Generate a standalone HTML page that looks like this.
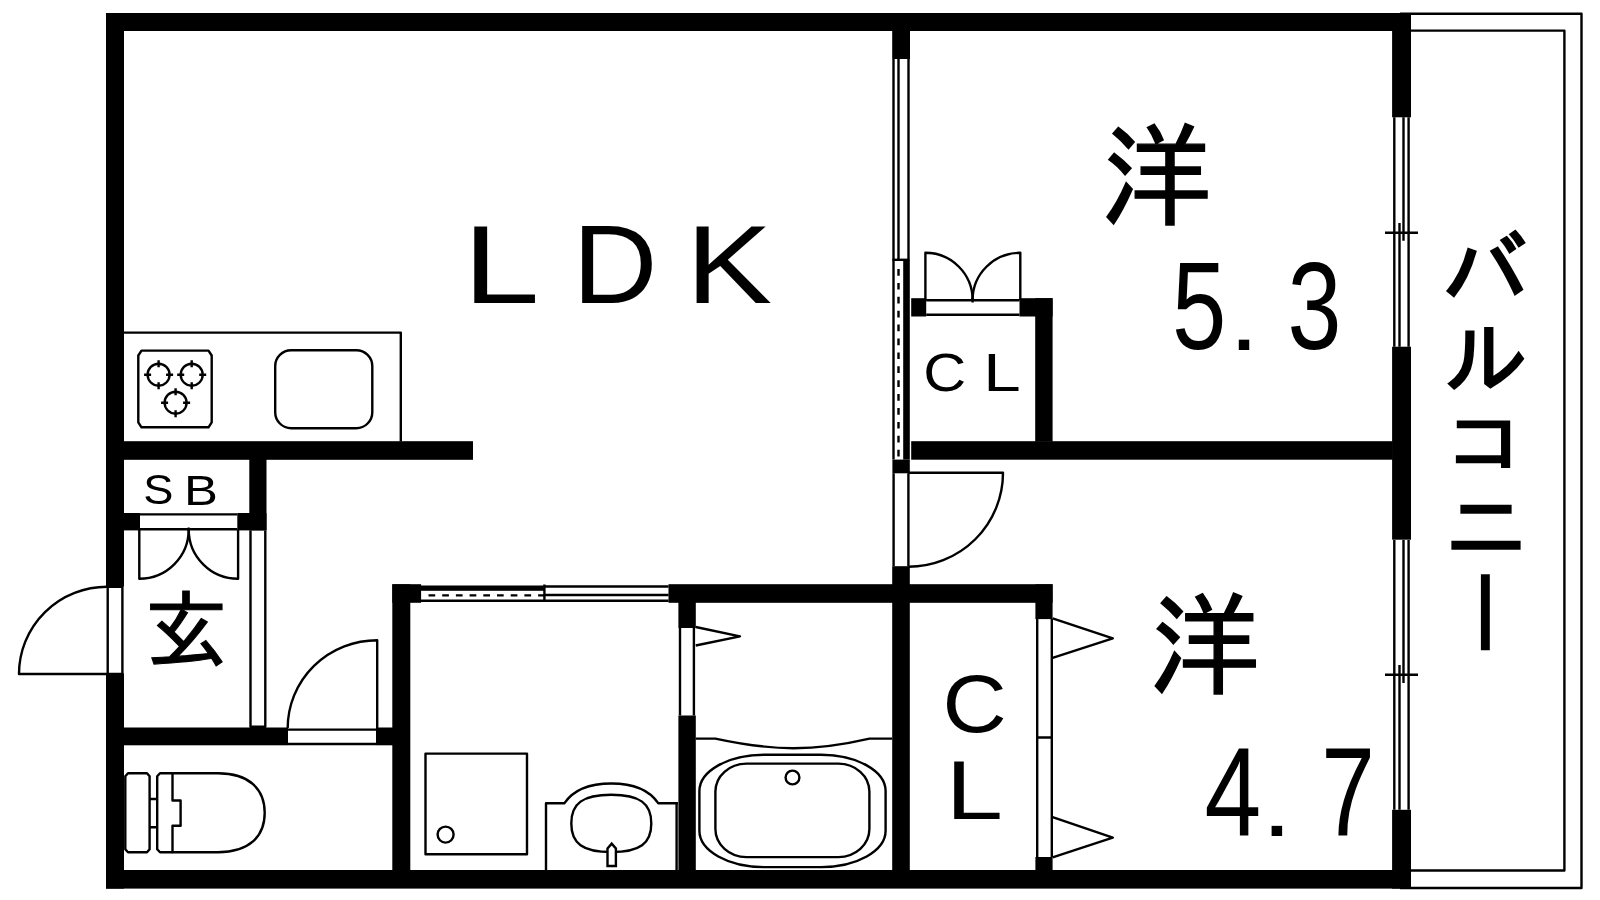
<!DOCTYPE html>
<html lang="ja">
<head>
<meta charset="utf-8">
<title>間取り図 2LDK</title>
<style>
html,body{margin:0;padding:0;background:#fff;}
body{width:1600px;height:900px;overflow:hidden;}
svg{display:block;position:absolute;left:0;top:0;will-change:transform;}
text{font-family:"Liberation Sans","IPAGothic","Noto Sans CJK JP",sans-serif;fill:#000;}
.w{fill:#000;stroke:none;}
.l{fill:none;stroke:#000;stroke-width:2.4;stroke-linejoin:round;}
.lw{fill:#fff;stroke:#000;stroke-width:2.4;}
</style>
</head>
<body>
<svg width="1600" height="900" viewBox="0 0 1600 900">
<rect x="0" y="0" width="1600" height="900" fill="#fff"/>

<!-- ===== thin line work ===== -->
<g class="l">
  <!-- balcony -->
  <path d="M1400,13.7 H1581.5 V888 H1400"/>
  <path d="M1410,30.6 H1564.4 V870.5 H1410"/>

  <!-- kitchen counter -->
  <path d="M124,332.6 H400.8 V441.5"/>
  <!-- stove -->
  <path d="M141.5,350.6 H208.5 L211.7,355.5 V422.4 L208.5,427.3 H141.5 L138.3,422.4 V355.5 Z"/>
  <g id="burner1">
    <circle cx="158.6" cy="374.7" r="11"/>
    <path d="M144.1,374.7 H151.1 M166.1,374.7 H173.1 M158.6,360.2 V367.2 M158.6,382.2 V389.2"/>
  </g>
  <g>
    <circle cx="191.7" cy="374.7" r="11"/>
    <path d="M177.2,374.7 H184.2 M199.2,374.7 H206.2 M191.7,360.2 V367.2 M191.7,382.2 V389.2"/>
  </g>
  <g>
    <circle cx="175.6" cy="402.7" r="11"/>
    <path d="M161.1,402.7 H168.1 M183.1,402.7 H190.1 M175.6,388.2 V395.2 M175.6,410.2 V417.2"/>
  </g>
  <!-- sink -->
  <rect x="275.2" y="350.2" width="97.1" height="78" rx="16" ry="16"/>

  <!-- entrance door -->
  <path d="M107.7,587 V674 M122.4,587 V674 M106.5,586.9 H123.5"/>
  <path d="M107,586.8 A88,87.2 0 0 0 19,674 H123"/>

  <!-- SB closet door frame + double doors -->
  <path d="M140,514.4 H237.3 M140,529.2 H237.3"/>
  <path d="M139.3,529.5 V578.8 A49.4,49.4 0 0 0 188.7,529.5"/>
  <path d="M238.1,529.5 V578.8 A49.4,49.4 0 0 1 188.7,529.5"/>
  <path d="M188.7,527.5 V531"/>

  <!-- thin partition by genkan -->
  <path d="M250.5,530.4 V726.8 H265.3 V530.4"/>

  <!-- hall door -->
  <path d="M288,729.6 H376 M288,744 H376"/>
  <path d="M377.2,728 V640.2 A89.5,88 0 0 0 287.7,728"/>

  <!-- toilet -->
  <path d="M128,773.3 H147 L149.6,776.3 V849.3 L147,852.3 H128 L125.3,849.3 V776.3 Z"/>
  <path d="M149.6,799 H158 M149.6,827.3 H158"/>
  <path d="M172.5,773.3 H160 L157.2,776.3 V849.3 L160,852.3 H172.5"/>
  <path d="M172.5,852.3 V825.7 H180.6 V800.5 H172.5 V773.3 H218 C249,773.3 264.7,789 264.7,812.8 C264.7,836.6 249,852.3 218,852.3 Z"/>

  <!-- washing machine pan -->
  <rect x="425.5" y="753.6" width="101.5" height="100.7"/>
  <circle cx="445.6" cy="834.6" r="8"/>

  <!-- wash basin -->
  <path d="M546,870 V803.2 H564.5 C574,789 592,783.5 611.3,783.5 C630.6,783.5 648.6,789 658.2,803.2 H678"/>
  <path d="M676.6,803.2 V870"/>
  <path d="M611.3,794.8 C640,794.8 651.3,803.5 651.3,823.4 C651.3,843.3 640,852 611.3,852 C582.6,852 571.3,843.3 571.3,823.4 C571.3,803.5 582.6,794.8 611.3,794.8 Z"/>

  <!-- washroom sliding door -->
  <path d="M421,600.7 H668.6"/>
  <path d="M544.4,586.5 H668.6 M544.4,595 H668.6"/>
  <path d="M544.4,584.5 V602"/>
  <path d="M428.5,595.4 H544" stroke-dasharray="6.7 7"/>

  <!-- bath folding door -->
  <path d="M680,628 V715.5 M693.9,628 V715.5"/>
  <path d="M695.7,627 L740,636.3 L695.7,645.5"/>

  <!-- bath tub -->
  <path d="M695.7,738.6 H715.4 C745,745 770,748.2 793.5,748.2 C817,748.2 842,745 869.5,738.6 H892.2"/>
  <rect x="699.4" y="754.7" width="186.2" height="112.4" rx="64.6" ry="36.3"/>
  <rect x="715.4" y="763.6" width="154" height="93.5" rx="31" ry="28"/>
  <circle cx="792.5" cy="777.5" r="6.9"/>

  <!-- LDK / bedroom sliding door -->
  <path d="M893.5,59 V459.6"/>
  <path d="M898.5,59 V259.8 M908.5,59 V259.8"/>
  <path d="M892.5,259.8 H909.5"/>
  <path d="M898.5,269 V459" stroke-dasharray="6.7 7.2"/>

  <!-- upper CL double doors -->
  <path d="M926.2,300.3 H1019.5 M926.2,314.7 H1019.5"/>
  <path d="M925.4,300.3 V252.8 A47.2,47.2 0 0 1 972.6,300.3"/>
  <path d="M1020.3,300.3 V252.8 A47.7,47.2 0 0 0 972.6,300.3"/>
  <path d="M972.6,298 V302.5"/>

  <!-- lower bedroom door -->
  <path d="M893.6,473.3 V566.2 M908.4,473.3 V566.2"/>
  <path d="M908.4,472.8 H1003 A94.6,94 0 0 1 908.4,566.8"/>

  <!-- lower CL folding doors -->
  <path d="M1037.2,619 V857 M1051.8,619 V857 M1037.2,737.5 H1051.8"/>
  <path d="M1052.6,618.4 L1112.8,638.3 L1052.6,657.8"/>
  <path d="M1052.6,817.2 L1112.8,837.6 L1052.6,857.3"/>

  <!-- windows (right wall) -->
  <path d="M1394.3,117.3 V346.7 M1408.6,117.3 V346.7"/>
  <path d="M1403.5,117.3 V240.7 M1399.5,223 V346.7"/>
  <path d="M1385,232.7 H1418"/>
  <path d="M1394.3,540 V809.8 M1408.6,540 V809.8"/>
  <path d="M1403.5,540 V683 M1399.5,665 V809.8"/>
  <path d="M1385,674.7 H1418"/>
</g>
<!-- faucet -->
<path class="lw" d="M607.5,866 V848.5 L611.7,843.6 L615.9,848.5 V866 Z"/>

<!-- ===== walls ===== -->
<g class="w">
  <rect x="106" y="13" width="1304.8" height="18"/>
  <rect x="106" y="870" width="1304.8" height="18.6"/>
  <rect x="106" y="13" width="18" height="573.5"/>
  <rect x="106" y="673.4" width="18" height="215.2"/>
  <!-- right wall -->
  <rect x="1392.1" y="13" width="18.9" height="104.3"/>
  <rect x="1392.1" y="346.7" width="18.9" height="193"/>
  <rect x="1392.1" y="809.8" width="18.9" height="78.8"/>
  <!-- kitchen bottom -->
  <rect x="106" y="441.2" width="367" height="18.6"/>
  <!-- SB -->
  <rect x="249.3" y="459" width="17.2" height="71.4"/>
  <rect x="124" y="513" width="16" height="17.4"/>
  <rect x="237.3" y="513" width="29.2" height="17.4"/>
  <!-- genkan / toilet -->
  <rect x="124" y="727.5" width="164" height="17.8"/>
  <rect x="376" y="727.5" width="17" height="17.8"/>
  <!-- washroom -->
  <rect x="392.3" y="584.3" width="18" height="290"/>
  <rect x="392.3" y="584.2" width="28.8" height="18.6"/>
  <rect x="421" y="585.5" width="123.4" height="5.3"/>
  <rect x="668.5" y="584.2" width="384.1" height="18.6"/>
  <rect x="678.4" y="602" width="17.4" height="26"/>
  <rect x="678.4" y="715.5" width="17.4" height="160"/>
  <!-- bath / CL -->
  <rect x="892.2" y="566.2" width="17.6" height="310"/>
  <rect x="892.2" y="31" width="17.8" height="28"/>
  <rect x="892.4" y="459.6" width="17.4" height="13.7"/>
  <rect x="903.2" y="259.8" width="6.6" height="199.8"/>
  <!-- between bedrooms -->
  <rect x="911.2" y="441.2" width="481.5" height="18.5"/>
  <!-- upper CL -->
  <rect x="1035.2" y="298.2" width="17.4" height="143.5"/>
  <rect x="1019.5" y="298.2" width="33.1" height="18.3"/>
  <rect x="911.2" y="298.2" width="15" height="18.3"/>
  <!-- lower CL -->
  <rect x="1035.4" y="584.3" width="17.2" height="34.8"/>
  <rect x="1035.4" y="857" width="17.2" height="14"/>
</g>

<!-- ===== labels ===== -->
<g id="labels">
  <text id="wLDK"><tspan x="462.99" y="302.50" font-size="111.23" textLength="76.55" lengthAdjust="spacingAndGlyphs">L</tspan><tspan x="572.59" y="302.50" font-size="111.23" textLength="84.96" lengthAdjust="spacingAndGlyphs">D</tspan><tspan x="685.92" y="302.50" font-size="111.23" textLength="86.13" lengthAdjust="spacingAndGlyphs">K</tspan></text>
  <text id="wYo1" stroke="#000" stroke-width="1.4"><tspan x="1100.82" y="217.14" font-size="112.96" textLength="111.50" lengthAdjust="spacingAndGlyphs">洋</tspan></text>
  <text id="w53"><tspan x="1171.89" y="349.35" font-size="125.00" textLength="54.33" lengthAdjust="spacingAndGlyphs">5</tspan><tspan x="1228.85" y="350.20" font-size="97.14" textLength="30.57" lengthAdjust="spacingAndGlyphs">.</tspan><tspan x="1287.52" y="349.36" font-size="123.80" textLength="53.96" lengthAdjust="spacingAndGlyphs">3</tspan></text>
  <text id="wCL1"><tspan x="923.27" y="391.46" font-size="53.87" textLength="42.99" lengthAdjust="spacingAndGlyphs">C</tspan><tspan x="983.36" y="391.25" font-size="53.62" textLength="37.49" lengthAdjust="spacingAndGlyphs">L</tspan></text>
  <text id="wSB"><tspan x="143.27" y="504.48" font-size="42.39" textLength="30.16" lengthAdjust="spacingAndGlyphs">S</tspan><tspan x="184.03" y="504.50" font-size="42.32" textLength="33.91" lengthAdjust="spacingAndGlyphs">B</tspan></text>
  <text id="wGen" stroke="#000" stroke-width="1.1"><tspan x="144.24" y="661.15" font-size="85.37" textLength="84.12" lengthAdjust="spacingAndGlyphs">玄</tspan></text>
  <text id="wCL2"><tspan x="942.56" y="731.59" font-size="80.85" textLength="64.19" lengthAdjust="spacingAndGlyphs">C</tspan><tspan x="945.77" y="818.70" font-size="83.91" textLength="57.24" lengthAdjust="spacingAndGlyphs">L</tspan></text>
  <text id="wYo2" stroke="#000" stroke-width="1.4"><tspan x="1149.06" y="686.40" font-size="112.85" textLength="111.56" lengthAdjust="spacingAndGlyphs">洋</tspan></text>
  <text id="w47"><tspan x="1204.45" y="835.90" font-size="126.09" textLength="56.73" lengthAdjust="spacingAndGlyphs">4</tspan><tspan x="1261.55" y="836.00" font-size="95.24" textLength="30.71" lengthAdjust="spacingAndGlyphs">.</tspan><tspan x="1321.19" y="835.90" font-size="126.09" textLength="53.54" lengthAdjust="spacingAndGlyphs">7</tspan></text>
  <text id="wBal" stroke="#000" stroke-width="2.4"><tspan x="1442.30" y="304.10" font-size="90.00" textLength="86.10" lengthAdjust="spacingAndGlyphs">バ</tspan><tspan x="1444.60" y="387.59" font-size="82.04" textLength="83.64" lengthAdjust="spacingAndGlyphs">ル</tspan><tspan x="1444.73" y="468.22" font-size="71.11" textLength="80.47" lengthAdjust="spacingAndGlyphs">コ</tspan><tspan x="1443.86" y="556.85" font-size="83.37" textLength="84.15" lengthAdjust="spacingAndGlyphs">ニ</tspan><tspan x="1443.47" y="646.90" font-size="90.06" textLength="83.75" lengthAdjust="spacingAndGlyphs" style="font-feature-settings:&quot;vert&quot; 1">ー</tspan></text>
</g>
</svg>
</body>
</html>
